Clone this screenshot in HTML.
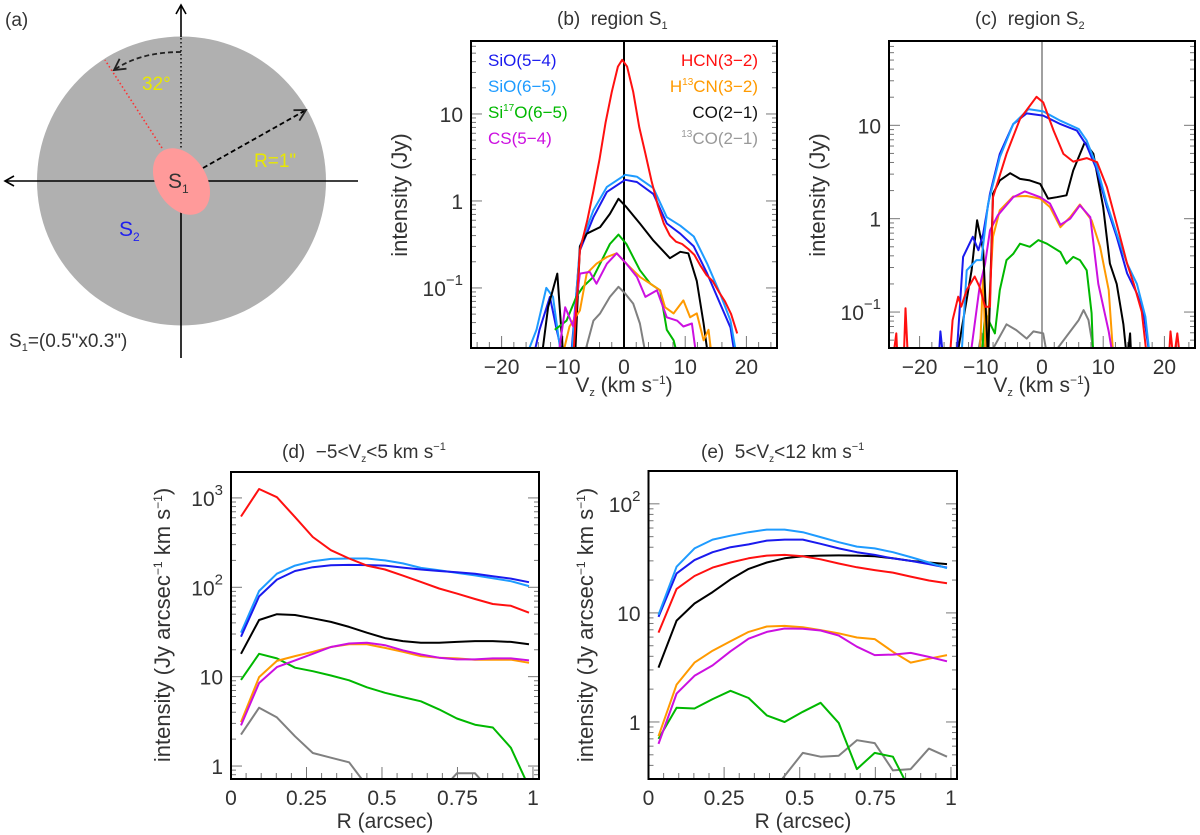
<!DOCTYPE html>
<html><head><meta charset="utf-8"><style>
html,body{margin:0;padding:0;background:#fff}
svg{display:block;font-family:"Liberation Sans",sans-serif}
text{fill:#333}
</style></head><body>
<svg id="fig" width="1200" height="835" viewBox="0 0 1200 835" xmlns="http://www.w3.org/2000/svg">
<defs>
<marker id="arr" markerWidth="12" markerHeight="12" refX="10" refY="6" orient="auto" markerUnits="userSpaceOnUse"><path d="M1,1 L10,6 L1,11" fill="none" stroke="#000" stroke-width="1.6"/></marker>
<marker id="arrd" markerWidth="14" markerHeight="14" refX="12" refY="7" orient="auto" markerUnits="userSpaceOnUse"><path d="M1,1 L12,7 L1,13" fill="none" stroke="#222" stroke-width="1.8"/></marker>
</defs>
<g>
<text x="5" y="26" font-size="19">(a)</text>
<circle cx="181.5" cy="181" r="144.5" fill="#b0b0b0"/>
<line x1="181" y1="358" x2="181" y2="5" stroke="#000" stroke-width="1.6" marker-end="url(#arr)"/>
<line x1="358" y1="181" x2="5" y2="181" stroke="#000" stroke-width="1.6" marker-end="url(#arr)"/>
<line x1="181" y1="37" x2="181" y2="150" stroke="#b0b0b0" stroke-width="3"/>
<line x1="181" y1="38" x2="181" y2="150" stroke="#000" stroke-width="1.4" stroke-dasharray="1.5,2.5"/>
<line x1="162" y1="148" x2="105" y2="60" stroke="#ff3030" stroke-width="1.6" stroke-dasharray="1.5,2.5"/>
<path d="M181,52 Q140,52 114,70" fill="none" stroke="#222" stroke-width="1.8" stroke-dasharray="5,3" marker-end="url(#arrd)"/>
<text x="142" y="90" font-size="19" style="fill:#e8e800">32°</text>
<line x1="203" y1="168" x2="306" y2="110" stroke="#000" stroke-width="1.8" stroke-dasharray="5,3" marker-end="url(#arrd)"/>
<text x="254" y="167" font-size="19" style="fill:#e8e800">R=1"</text>
<ellipse cx="181.5" cy="181.5" rx="25" ry="36" transform="rotate(-32 181.5 181.5)" fill="#ff9a9a"/>
<text x="168" y="188" font-size="21">S<tspan font-size="12" dy="5">1</tspan></text>
<text x="119" y="236" font-size="21" style="fill:#2020ee">S<tspan font-size="12" dy="5">2</tspan></text>
<text x="9" y="347" font-size="19">S<tspan font-size="11" dy="4">1</tspan><tspan dy="-4">=(0.5"x0.3")</tspan></text>
</g>
</svg>
<script>
// ---------- panel (b) data: region S1 spectra ----------
const bRedV=[-8.2,-7.2,-6,-5,-4,-3,-2,-1,-0.3,0.5,1.5,2.5,3.5,4.5,5.5,6.5,7.5,8.5,9.5,10.5,11.5,12.5,13.5,14.5,15.5,16.5,17.5,18.5];
const bRedY=[0.02,0.27,0.6,1.3,3,8,18,35,42,35,18,7,3.5,1.7,0.9,0.55,0.4,0.34,0.32,0.28,0.24,0.18,0.14,0.12,0.09,0.07,0.05,0.03];
const bLbV=[-16.2,-14.3,-12.7,-11.6,-10.2,-8.6,-7.2,-5,-2.8,0.2,2.1,4.8,7,9.2,11.4,13.6,15.7,17.4,18.5];
const bLbY=[0.015,0.033,0.1,0.079,0.015,0.015,0.3,0.78,1.45,2.0,1.9,1.4,0.65,0.52,0.39,0.19,0.086,0.042,0.015];
const bBlV=[-14.9,-13.8,-12.1,-11,-9.9,-8.7,-7.2,-5,-2.8,0.2,2.1,4.8,7,9.2,11.4,13.6,15.7,17.4,18.2];
const bBlY=[0.015,0.033,0.079,0.033,0.015,0.015,0.27,0.65,1.27,1.75,1.65,1.2,0.55,0.42,0.3,0.146,0.066,0.035,0.015];
const bBkV=[-13.5,-12.4,-10.9,-9.9,-8,-7.2,-6.1,-3.9,-2.3,-0.9,0.4,2.6,4.8,7.5,9.2,10.5,11.9,13,13.8];
const bBkY=[0.015,0.06,0.146,0.015,0.015,0.3,0.42,0.5,0.71,1.06,0.85,0.55,0.35,0.22,0.26,0.25,0.12,0.039,0.015];
const bGrV=[-11.3,-9.4,-7.8,-6.7,-5,-3.9,-2.3,-0.9,0.4,2.6,4.3,5.9,7,8.1,8.9];
const bGrY=[0.033,0.042,0.079,0.103,0.134,0.19,0.32,0.41,0.32,0.16,0.112,0.094,0.033,0.025,0.015];
const bOrV=[-10.2,-8.9,-7.2,-6.1,-4.5,-2.8,-1.2,0.4,2.6,4.3,5.9,6.7,8.1,9.7,10.8,11.9,13,13.8,14.4];
const bOrY=[0.015,0.036,0.055,0.146,0.19,0.227,0.25,0.19,0.134,0.112,0.094,0.06,0.051,0.072,0.046,0.051,0.025,0.033,0.015];
const bMaV=[-10.8,-9.6,-8.3,-7.2,-5.6,-4.5,-2.8,-1.2,0.4,2.1,3.5,5.4,7,8.7,9.7,11.1,11.9];
const bMaY=[0.015,0.06,0.036,0.146,0.153,0.112,0.19,0.25,0.19,0.134,0.079,0.094,0.046,0.042,0.036,0.039,0.015];
const bGyV=[-6.7,-5,-3.9,-2.3,-0.9,0.2,1.5,2.6,3.7];
const bGyY=[0.015,0.042,0.051,0.079,0.103,0.086,0.066,0.039,0.015];
// ---------- panel (c) data: region S2 spectra ----------
const cRedV=[-24.4,-23.8,-23.6,-22.6,-22.3,-21.9,-15.1,-14.6,-13.7,-13.2,-12.3,-11,-10.2,-9.3,-8.5,-8,-5.8,-3.6,-0.9,0.2,1.9,3.5,5.1,7.3,9,10.6,12.2,13.9,15,16.3,17.2,20.7,21,21.5,22.1,22.6];
const cRedY=[0.03,0.059,0.03,0.03,0.11,0.03,0.03,0.082,0.146,0.114,0.172,0.24,0.186,0.114,0.114,1.7,4.94,11.7,20.2,17.6,8.77,4.94,4.09,4.45,4.03,2.18,0.88,0.33,0.2,0.1,0.03,0.03,0.062,0.03,0.059,0.03];
const cBlV=[-16.9,-16.6,-16.1,-14,-12.9,-11.3,-10.4,-9.6,-8.5,-6.9,-4.7,-2.5,0.2,3,5.7,7.3,9,10.6,12.2,13.9,15.5,16.6,17.7];
const cBlY=[0.03,0.062,0.03,0.03,0.39,0.64,0.46,0.69,1.85,4.94,10.3,13.4,12.7,10.3,8.77,6.07,3.28,1.33,0.64,0.26,0.158,0.097,0.03];
const cLbV=[-13.2,-12.3,-10.7,-9.9,-8.8,-6.9,-4.7,-2.2,0.2,3,6,7.3,9,10.6,12.2,13.9,15.5,16.9,17.7];
const cLbY=[0.03,0.28,0.36,0.36,1.45,4.55,10.3,14.9,14.1,11.2,9.14,6.86,3.56,1.45,0.69,0.33,0.2,0.089,0.03];
const cBkV=[-14,-12.6,-11.5,-10.6,-9.6,-8.8,-8,-6.9,-5.2,-3.6,-2,-0.3,1,2.4,4,5.1,7,8.4,10,11.1,12.2,13.3,13.9,14.4,14.6];
const cBkY=[0.03,0.105,0.28,0.96,0.46,0.03,1.85,2.57,3.07,2.67,2.57,2.36,1.64,1.7,1.78,3.28,6.58,4.94,1.33,0.33,0.2,0.074,0.03,0.059,0.03];
const cOrV=[-10.2,-9.6,-9.2,-8,-6.9,-4.7,-2.5,-0.3,1.3,3,4.6,6.2,8.1,9.5,10.9,11.7];
const cOrY=[0.03,0.26,0.03,0.64,1.23,1.73,1.75,1.64,1.33,0.81,1.04,1.42,0.96,0.5,0.172,0.03];
const cMaV=[-11.8,-10.2,-9.3,-8.5,-7.2,-4.7,-2.8,-0.3,1.3,3,4.6,6.2,7.9,9.2,10.9,11.7];
const cMaY=[0.03,0.186,0.33,0.75,1.09,1.7,1.96,1.7,1.45,0.86,1.0,1.39,1.04,0.2,0.062,0.03];
const cGrV=[-9.9,-9.3,-7.7,-6.9,-5.8,-4.7,-3.6,-2,-0.6,0.8,3,4,5.1,6.2,7.3,8.1,8.4];
const cGrY=[0.03,0.097,0.059,0.172,0.36,0.42,0.54,0.5,0.59,0.54,0.44,0.33,0.39,0.36,0.28,0.097,0.03];
const cGyV=[-10.7,-9.9,-9.1,-5.8,-4.2,-2.5,-1.4,0.2,1,6,6.8,7.6,8.7];
const cGyY=[0.03,0.059,0.03,0.074,0.064,0.052,0.062,0.059,0.03,0.082,0.105,0.082,0.03];
// ---------- panels (d),(e) data: radial profiles ----------
const radii=[0.033,0.093,0.152,0.212,0.271,0.331,0.391,0.450,0.510,0.569,0.629,0.689,0.748,0.808,0.867,0.927,0.987];
const dRed=[620,1260,1020,610,365,260,210,175,158,135,115,97,85,74,65,62,52];
const dLb=[31,91,142,175,196,208,210,210,200,185,165,155,145,136,126,117,103];
const dBl=[28,79,122,152,168,176,178,177,175,166,158,152,147,142,133,125,114];
const dBk=[18,43,50,49,45,41,36,31,27,25,24,24,24.5,25,25,24.5,23];
const dGr=[9.2,18,16,12.6,11.5,10.3,9.1,7.6,6.6,5.9,5.3,4.3,3.4,2.9,2.7,1.6,0.58];
const dOr=[3.1,9.9,15,17,19,21.5,23,23,21,19,17,16.3,16,15.5,15.5,15.5,14.3];
const dMa=[2.85,8.5,12.8,15.2,18,21.5,23.5,24,22.5,19.7,17.7,16.3,15.6,15.6,16,16,15.2];
const dGy=[2.25,4.5,3.5,2.15,1.4,1.24,1.1,0.6,0.5,0.5,0.5,0.5,0.83,0.83,0.5,0.5,0.5];
const eLb=[9.6,26.5,39,47,51,55,58,58,55,49.5,44.5,40.5,39,36,32.5,29,25.7];
const eBl=[9.2,23,30.5,36,40,42.5,46,47,47,43,39,36,34,31.6,30,28,26];
const eRed=[6.6,16.6,21.8,26,29,31.7,33.5,34,33,31,28.4,26.2,24.7,23.4,21.5,19.8,18.7];
const eBk=[3.15,8.5,12.2,15.5,20.3,25.3,29,31.7,33,33.5,33.7,33.5,33,31.7,30,29,28];
const eOr=[0.74,2.2,3.5,4.5,5.5,6.7,7.5,7.6,7.4,6.95,6.5,5.95,5.75,4.4,3.5,3.8,4.1];
const eMa=[0.63,1.82,2.65,3.3,4.45,5.8,6.7,7.2,7.15,6.9,6.2,4.9,4.1,4.15,4.3,3.95,3.6];
const eGr=[0.70,1.35,1.33,1.62,1.93,1.66,1.15,1.0,1.24,1.5,0.98,0.37,0.52,0.48,0.23,0.15,0.12];
const eGy=[0.1,0.1,0.1,0.1,0.1,0.1,0.2,0.32,0.52,0.48,0.49,0.68,0.64,0.36,0.37,0.57,0.48];
const xTicksV=[-20,-10,0,10,20];
const xTicksR=[0,0.25,0.5,0.75,1];

const COL={red:'#ff1010',lb:'#1e9bff',bl:'#1a1aee',bk:'#000',gr:'#00b800',or:'#ff9a00',ma:'#cc10e0',gy:'#808080'};
const NS='http://www.w3.org/2000/svg';
const svg=document.getElementById('fig');
function mk(tag,attrs,parent){const e=document.createElementNS(NS,tag);for(const k in attrs)e.setAttribute(k,attrs[k]);(parent||svg).appendChild(e);return e;}

function panel(id,f,xd,yd,opt){
  const g=mk('g',{});
  
  
  const sx=v=>f.x0+(v-xd[0])/(xd[1]-xd[0])*(f.x1-f.x0);
  const sy=v=>f.y1-(Math.log10(v)-Math.log10(yd[0]))/(Math.log10(yd[1])-Math.log10(yd[0]))*(f.y1-f.y0);
  const cp=mk('clipPath',{id:'clip-'+id},g);
  mk('rect',{x:f.x0,y:f.y0,width:f.x1-f.x0,height:f.y1-f.y0},cp);
  const lo=Math.floor(Math.log10(yd[0])),hi=Math.ceil(Math.log10(yd[1]));
  for(let p=lo;p<=hi;p++){for(let m=1;m<10;m++){const v=m*Math.pow(10,p);if(v<yd[0]||v>yd[1])continue;const y=sy(v);const L=m===1?11:5;
    const t1=mk('line',{x1:f.x0,y1:y,x2:f.x0+L,y2:y,stroke:'#777','stroke-width':1},g);
    
    
    const t2=mk('line',{x1:f.x1,y1:y,x2:f.x1-L,y2:y,stroke:'#777','stroke-width':1},g);
    
    
    if(m===1){const t=mk('text',{x:f.x0-8,y:y+8,'text-anchor':'end','font-size':21},g);
      
      
      if(p===0)t.textContent='1';else if(p===1)t.textContent='10';else{t.textContent='10';const s=mk('tspan',{dy:-11,'font-size':15},t);s.textContent=p<0?'\u2212'+(-p):String(p);}
    }}}
  const step=opt.minor;
  for(let v=Math.ceil(xd[0]/step)*step;v<=xd[1]+1e-9;v+=step){const x=sx(v);const major=opt.majors.some(M=>Math.abs(M-v)<1e-6);
    const t=mk('line',{x1:x,y1:f.y1,x2:x,y2:f.y1-(major?12:6),stroke:'#777','stroke-width':1},g);
    
    }
  opt.majors.forEach(v=>{const t=mk('text',{x:sx(v),y:f.y1+26,'text-anchor':'middle','font-size':21},g);
    
    
    t.textContent=(v<0?'\u2212'+(-v):String(v));});
  if(opt.zero){const z=mk('line',{x1:sx(0),y1:f.y0,x2:sx(0),y2:f.y1,stroke:opt.zero,'stroke-width':2},g);
    
    }
  const sg=mk('g',{'clip-path':'url(#clip-'+id+')'},g);
  opt.series.forEach(s=>{
    const pts=s.x.map((xv,i)=>sx(xv).toFixed(1)+','+sy(Math.max(s.y[i],1e-3)).toFixed(1)).join(' ');
    const pl=mk('polyline',{points:pts,fill:'none',stroke:s.c,'stroke-width':2,'stroke-linejoin':'round'},sg);
    
    
  });
  const fr=mk('rect',{x:f.x0,y:f.y0,width:f.x1-f.x0,height:f.y1-f.y0,fill:'none',stroke:'#000','stroke-width':2},g);
  
  
  return g;
}
function txt(str,attrs,name){const t=mk('text',attrs);t.innerHTML=str;
  
  
  return t;}

panel('panel-b',{x0:471,x1:777,y0:41,y1:348},[-25,25],[0.0204,69],{minor:2,majors:xTicksV,zero:'#000',series:[
 {n:'b-sio54',x:bBlV,y:bBlY,c:COL.bl},{n:'b-sio65',x:bLbV,y:bLbY,c:COL.lb},{n:'b-co21',x:bBkV,y:bBkY,c:COL.bk},
 {n:'b-si17o',x:bGrV,y:bGrY,c:COL.gr},{n:'b-h13cn',x:bOrV,y:bOrY,c:COL.or},{n:'b-cs54',x:bMaV,y:bMaY,c:COL.ma},
 {n:'b-13co',x:bGyV,y:bGyY,c:COL.gy},{n:'b-hcn32',x:bRedV,y:bRedY,c:COL.red}]});
panel('panel-c',{x0:889,x1:1195,y0:41,y1:348},[-25,25],[0.0412,80],{minor:2,majors:xTicksV,zero:'#a0a0a0',series:[
 {n:'c-13co',x:cGyV,y:cGyY,c:COL.gy},{n:'c-si17o',x:cGrV,y:cGrY,c:COL.gr},{n:'c-h13cn',x:cOrV,y:cOrY,c:COL.or},
 {n:'c-cs54',x:cMaV,y:cMaY,c:COL.ma},{n:'c-co21',x:cBkV,y:cBkY,c:COL.bk},{n:'c-sio54',x:cBlV,y:cBlY,c:COL.bl},
 {n:'c-sio65',x:cLbV,y:cLbY,c:COL.lb},{n:'c-hcn32',x:cRedV,y:cRedY,c:COL.red}]});
panel('panel-d',{x0:231,x1:539,y0:472,y1:779},[0,1.02],[0.716,1950],{minor:0.05,majors:xTicksR,series:[
 {n:'d-13co',x:radii,y:dGy,c:COL.gy},{n:'d-si17o',x:radii,y:dGr,c:COL.gr},{n:'d-h13cn',x:radii,y:dOr,c:COL.or},
 {n:'d-cs54',x:radii,y:dMa,c:COL.ma},{n:'d-co21',x:radii,y:dBk,c:COL.bk},{n:'d-sio65',x:radii,y:dLb,c:COL.lb},
 {n:'d-sio54',x:radii,y:dBl,c:COL.bl},{n:'d-hcn32',x:radii,y:dRed,c:COL.red}]});
panel('panel-e',{x0:648.5,x1:957,y0:471,y1:779},[0,1.02],[0.30,200],{minor:0.05,majors:xTicksR,series:[
 {n:'e-13co',x:radii,y:eGy,c:COL.gy},{n:'e-si17o',x:radii,y:eGr,c:COL.gr},{n:'e-h13cn',x:radii,y:eOr,c:COL.or},
 {n:'e-cs54',x:radii,y:eMa,c:COL.ma},{n:'e-co21',x:radii,y:eBk,c:COL.bk},{n:'e-hcn32',x:radii,y:eRed,c:COL.red},
 {n:'e-sio54',x:radii,y:eBl,c:COL.bl},{n:'e-sio65',x:radii,y:eLb,c:COL.lb}]});

txt('(b)&#160;&#160;region S<tspan font-size="11" dy="4">1</tspan>',{x:557,y:25,'font-size':19},'panel-b-title');
txt('(c)&#160;&#160;region S<tspan font-size="11" dy="4">2</tspan>',{x:975,y:25,'font-size':19},'panel-c-title');
txt('(d)&#160;&#160;\u22125&lt;V<tspan font-size="10" dy="4">z</tspan><tspan dy="-4">&lt;5 km s</tspan><tspan font-size="11" dy="-8">\u22121</tspan>',{x:282,y:458,'font-size':19},'panel-d-title');
txt('(e)&#160;&#160;5&lt;V<tspan font-size="10" dy="4">z</tspan><tspan dy="-4">&lt;12 km s</tspan><tspan font-size="11" dy="-8">\u22121</tspan>',{x:701,y:458,'font-size':19},'panel-e-title');
txt('V<tspan font-size="11" dy="4">z</tspan><tspan dy="-4"> (km s</tspan><tspan font-size="12" dy="-8">\u22121</tspan><tspan dy="8">)</tspan>',{x:624,y:392,'text-anchor':'middle','font-size':21},'panel-b-x-label');
txt('V<tspan font-size="11" dy="4">z</tspan><tspan dy="-4"> (km s</tspan><tspan font-size="12" dy="-8">\u22121</tspan><tspan dy="8">)</tspan>',{x:1042,y:392,'text-anchor':'middle','font-size':21},'panel-c-x-label');
txt('R (arcsec)',{x:385,y:828,'text-anchor':'middle','font-size':21},'panel-d-x-label');
txt('R (arcsec)',{x:803,y:828,'text-anchor':'middle','font-size':21},'panel-e-x-label');
txt('intensity (Jy)',{x:0,y:0,'text-anchor':'middle','font-size':22,transform:'translate(407,195) rotate(-90)'},'panel-b-y-label');
txt('intensity (Jy)',{x:0,y:0,'text-anchor':'middle','font-size':22,transform:'translate(825,195) rotate(-90)'},'panel-c-y-label');
txt('intensity (Jy arcsec<tspan font-size="12" dy="-8">\u22121</tspan><tspan dy="8"> km s</tspan><tspan font-size="12" dy="-8">\u22121</tspan><tspan dy="8">)</tspan>',{x:0,y:0,'text-anchor':'middle','font-size':22,transform:'translate(170,625) rotate(-90)'},'panel-d-y-label');
txt('intensity (Jy arcsec<tspan font-size="12" dy="-8">\u22121</tspan><tspan dy="8"> km s</tspan><tspan font-size="12" dy="-8">\u22121</tspan><tspan dy="8">)</tspan>',{x:0,y:0,'text-anchor':'middle','font-size':22,transform:'translate(593,625) rotate(-90)'},'panel-e-y-label');
const legL=[['SiO(5\u22124)',COL.bl],['SiO(6\u22125)',COL.lb],['Si<tspan font-size="10" dy="-7">17</tspan><tspan dy="7">O(6\u22125)</tspan>',COL.gr],['CS(5\u22124)',COL.ma]];
const legR=[['HCN(3\u22122)',COL.red],['H<tspan font-size="10" dy="-7">13</tspan><tspan dy="7">CN(3\u22122)</tspan>',COL.or],['CO(2\u22121)','#111'],['<tspan font-size="10" dy="-7">13</tspan><tspan dy="7">CO(2\u22121)</tspan>','#999']];
legL.forEach((l,i)=>{txt(l[0],{x:488,y:66+i*26,'font-size':17,style:'fill:'+l[1]},'legend-entry');});
legR.forEach((l,i)=>{txt(l[0],{x:758,y:66+i*26,'font-size':17,'text-anchor':'end',style:'fill:'+l[1]},'legend-entry');});
</script>
</body></html>
